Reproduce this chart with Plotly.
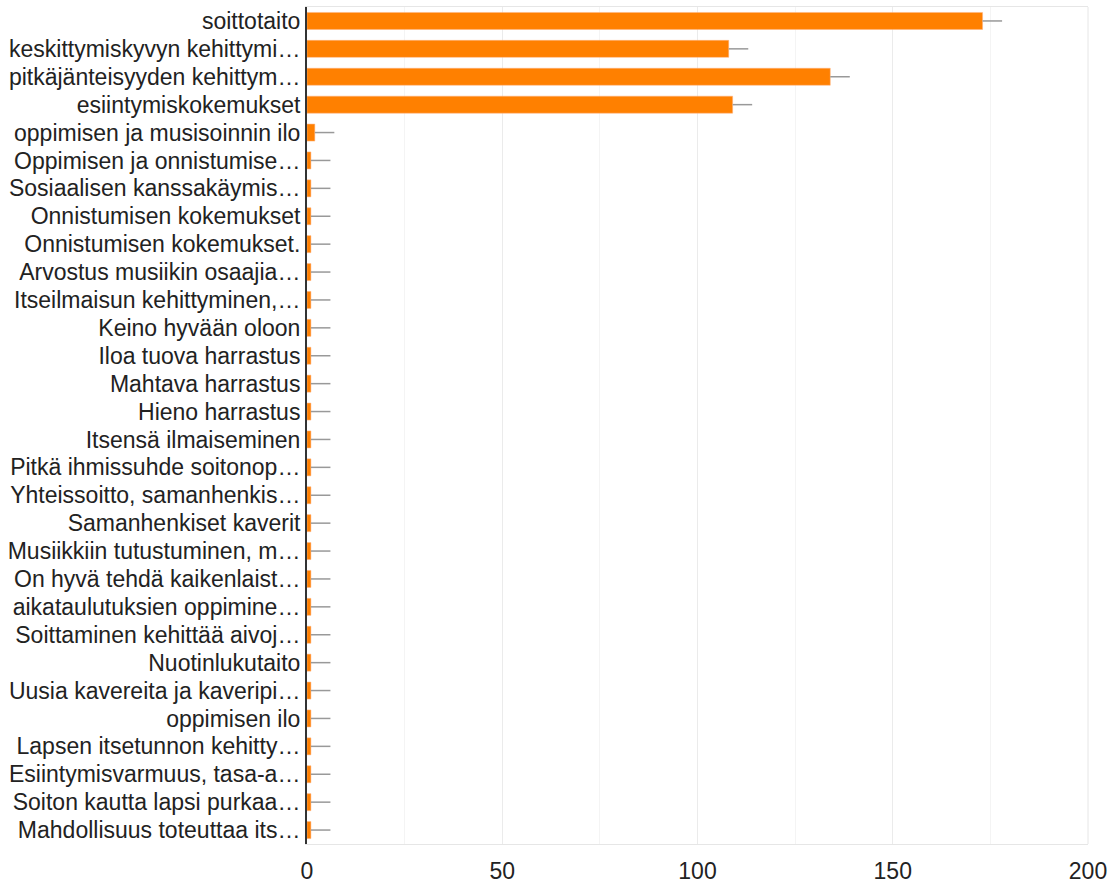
import plotly.graph_objects as go

categories = [
    "soittotaito",
    "keskittymiskyvyn kehittymi…",
    "pitkäjänteisyyden kehittym…",
    "esiintymiskokemukset",
    "oppimisen ja musisoinnin ilo",
    "Oppimisen ja onnistumise…",
    "Sosiaalisen kanssakäymis…",
    "Onnistumisen kokemukset",
    "Onnistumisen kokemukset.",
    "Arvostus musiikin osaajia…",
    "Itseilmaisun kehittyminen,…",
    "Keino hyvään oloon",
    "Iloa tuova harrastus",
    "Mahtava harrastus",
    "Hieno harrastus",
    "Itsensä ilmaiseminen",
    "Pitkä ihmissuhde soitonop…",
    "Yhteissoitto, samanhenkis…",
    "Samanhenkiset kaverit",
    "Musiikkiin tutustuminen, m…",
    "On hyvä tehdä kaikenlaist…",
    "aikataulutuksien oppimine…",
    "Soittaminen kehittää aivoj…",
    "Nuotinlukutaito",
    "Uusia kavereita ja kaveripi…",
    "oppimisen ilo",
    "Lapsen itsetunnon kehitty…",
    "Esiintymisvarmuus, tasa-a…",
    "Soiton kautta lapsi purkaa…",
    "Mahdollisuus toteuttaa its…",
]
values = [173, 108, 134, 109, 2] + [1] * 25
errors = [5] * 30
tick_vals = [0, 50, 100, 150, 200]

fig = go.Figure()
fig.add_trace(go.Bar(
    y=categories,
    x=values,
    orientation="h",
    marker=dict(color="#ff8000", line=dict(color="#ffb380", width=0.5)),
    error_x=dict(type="data", array=errors, arrayminus=[0] * 30,
                 color="#999999", thickness=1.5, width=0),
    hoverinfo="x+y",
))

fig.update_layout(
    width=1109, height=884,
    margin=dict(l=307, r=21, t=7, b=40, autoexpand=False),
    paper_bgcolor="white", plot_bgcolor="white",
    font=dict(family="Liberation Sans, Arial, sans-serif", size=23, color="#222222"),
    bargap=0.39,
    showlegend=False,
    xaxis=dict(
        range=[0, 200],
        tickvals=tick_vals,
        showgrid=True, gridcolor="#ebebeb", gridwidth=1,
        minor=dict(dtick=25, showgrid=True, gridcolor="#f4f4f4", gridwidth=1),
        zeroline=False,
        showline=True, linecolor="#e6e6e6", linewidth=1, mirror=True,
        ticks="", ticklabelstandoff=6,
        tickfont=dict(size=23, color="#222222"),
    ),
    yaxis=dict(
        categoryorder="array", categoryarray=categories,
        tickmode="array", tickvals=categories, ticktext=categories,
        autorange="reversed",
        showgrid=False,
        showline=True, linecolor="#333333", linewidth=2,
        ticks="", ticklabelstandoff=0,
        tickfont=dict(size=23, color="#222222"),
    ),
)
fig.add_shape(type="line", xref="paper", yref="paper", x0=1, x1=1, y0=0, y1=1,
              line=dict(color="#e6e6e6", width=1))

fig.write_html(
    "out.html",
    config={"displayModeBar": False},
    post_script="document.body.style.margin='0';document.body.style.overflow='hidden';",
)
